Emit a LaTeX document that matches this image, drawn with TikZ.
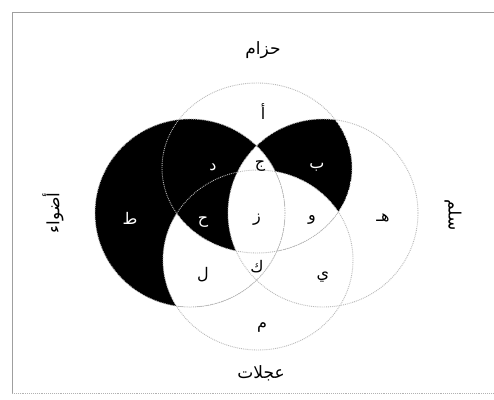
\documentclass[tikz,border=0pt]{standalone}
\usepackage{fontspec}
\newfontfamily\arabicfont[Script=Arabic]{DejaVu Sans}
\TeXXeTstate=1

% the four sets
\def\ovalT{(257,168) ellipse [x radius=95, y radius=85]}
\def\ovalB{(258,260) ellipse [x radius=95, y radius=90]}
\def\ovalL{(190,213) ellipse [x radius=95, y radius=94]}
\def\ovalR{(323,213) ellipse [x radius=95, y radius=94]}

\begin{document}
\begin{tikzpicture}[
    x=1pt, y=-1pt,
    setline/.style={draw=gray!55, densely dotted, line width=0.9pt},
    letter/.style={font=\arabicfont\fontsize{16}{18}\selectfont},
    darkletter/.style={letter, text=white},
    setname/.style={font=\arabicfont\fontsize{17}{20}\selectfont}
]
    \useasboundingbox (0,0) rectangle (494,399);
    \fill[white] (0,0) rectangle (494,399);

    % shaded parts
    \begin{scope}
        \clip \ovalT; \clip \ovalR;
        \fill[black] \ovalT;
        \fill[white] \ovalL;
        \fill[white] \ovalB;
    \end{scope}
    \fill[black] \ovalL;
    \begin{scope}
        \clip \ovalL;
        \fill[white] \ovalR;
    \end{scope}
    \begin{scope}
        \clip \ovalL; \clip \ovalB;
        \fill[white, even odd rule] (0,0) rectangle (494,399) \ovalT;
    \end{scope}

    % outlines
    \draw[setline] \ovalT;
    \draw[setline] \ovalB;
    \draw[setline] \ovalL;
    \draw[setline] \ovalR;

    % frame
    \draw[gray!75, line width=0.9pt] (494,12) -- (12,12) -- (12,393);
    \draw[gray!60, densely dotted, line width=0.9pt] (12,393) -- (494,393);

    % set names
    \node[setname] (belt) at (263,50) {\beginR حزام\endR};
    \node[setname] (wheels) at (261,373) {\beginR عجلات\endR};
    \node[setname, rotate=90] (lights) at (53,213) {\beginR أضواء\endR};
    \node[setname, rotate=-90] (ladder) at (453,215) {\beginR سلم\endR};

    % regions
    \node[letter] (alef) at (263,112) {\beginR أ\endR};
    \node[darkletter] (ba) at (317,167) {\beginR ب\endR};
    \node[letter] (jim) at (260,166) {\beginR ج\endR};
    \node[darkletter] (dal) at (213,167) {\beginR د\endR};
    \node[letter] (ha) at (383,218) {\beginR هـ\endR};
    \node[letter] (waw) at (312,220) {\beginR و\endR};
    \node[letter] (zay) at (257,220) {\beginR ز\endR};
    \node[darkletter] (hha) at (203,222) {\beginR ح\endR};
    \node[darkletter] (tta) at (130,218) {\beginR ط\endR};
    \node[letter] (ya) at (323,277) {\beginR ي\endR};
    \node[letter] (kaf) at (257,267) {\beginR ك\endR};
    \node[letter] (lam) at (203,275) {\beginR ل\endR};
    \node[letter] (mim) at (262,327) {\beginR م\endR};
\end{tikzpicture}
\end{document}
